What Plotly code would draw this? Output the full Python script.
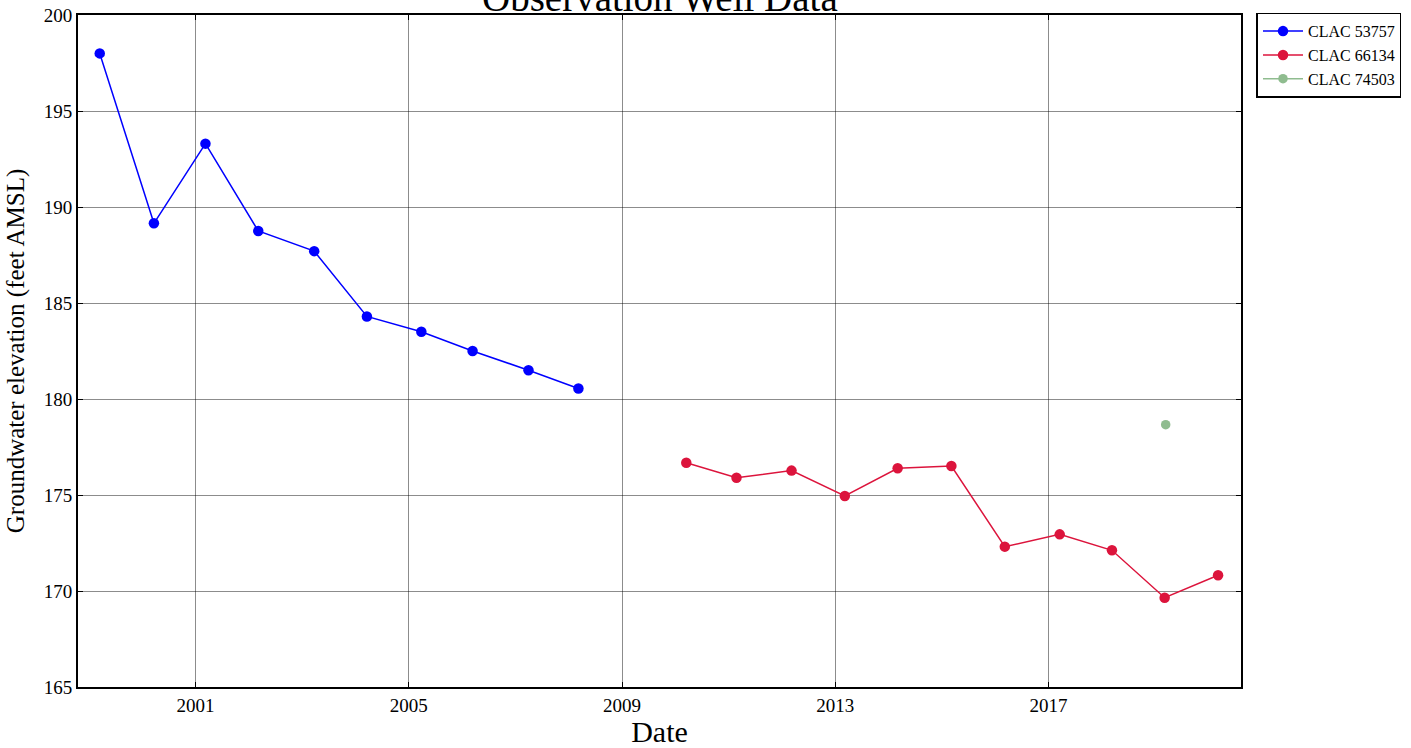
import plotly.graph_objects as go

# Observation well records (survey dates and groundwater elevations, feet AMSL)
well_53757_dates = ["1999-03-17", "2000-03-22", "2001-03-10", "2002-03-07", "2003-03-25",
                    "2004-03-20", "2005-03-28", "2006-03-14", "2007-04-01", "2008-03-08"]
well_53757_elev = [198.0, 189.15, 193.3, 188.75, 187.7, 184.3, 183.5, 182.5, 181.5, 180.55]

well_66134_dates = ["2010-03-17", "2011-02-24", "2012-03-07", "2013-03-07", "2014-03-04",
                    "2015-03-07", "2016-03-07", "2017-03-18", "2018-03-11", "2019-03-07",
                    "2020-03-07"]
well_66134_elev = [176.68, 175.9, 176.27, 174.95, 176.39, 176.51, 172.31, 172.95, 172.12,
                   169.65, 170.82]

well_74503_dates = ["2019-03-14"]
well_74503_elev = [178.66]

x_range = ["1998-10-19", "2020-08-11"]
y_range = [165, 200]
x_tick_vals = ["2001-01-01", "2005-01-01", "2009-01-01", "2013-01-01", "2017-01-01"]
x_tick_text = ["2001", "2005", "2009", "2013", "2017"]
y_tick_vals = [165, 170, 175, 180, 185, 190, 195, 200]

SERIF = "Liberation Serif, Times New Roman, serif"

fig = go.Figure()
fig.add_trace(go.Scatter(
    x=well_53757_dates, y=well_53757_elev, name="CLAC 53757", mode="lines+markers",
    line=dict(color="#0000ff", width=1.5),
    marker=dict(color="#0000ff", size=10.5),
))
fig.add_trace(go.Scatter(
    x=well_66134_dates, y=well_66134_elev, name="CLAC 66134", mode="lines+markers",
    line=dict(color="#dc143c", width=1.5),
    marker=dict(color="#dc143c", size=10.5),
))
fig.add_trace(go.Scatter(
    x=well_74503_dates, y=well_74503_elev, name="CLAC 74503", mode="lines+markers",
    line=dict(color="#8fbc8f", width=1.5),
    marker=dict(color="#8fbc8f", size=9.5),
))

axis_common = dict(
    showline=True, linecolor="black", linewidth=1.8, mirror="allticks",
    ticks="inside", ticklen=5, tickcolor="black",
    showgrid=True, gridcolor="rgba(0,0,0,0.45)", gridwidth=1,
    zeroline=False, automargin=False,
    tickfont=dict(family=SERIF, size=19, color="black"),
)

fig.update_xaxes(
    type="date", range=x_range, tickvals=x_tick_vals, ticktext=x_tick_text,
    title=dict(text="Date", font=dict(family=SERIF, size=30, color="black"), standoff=10),
    **axis_common,
)
fig.update_yaxes(
    range=y_range, tickvals=y_tick_vals,
    title=dict(text="Groundwater elevation (feet AMSL)",
               font=dict(family=SERIF, size=25, color="black"), standoff=12),
    **axis_common,
)

fig.add_annotation(
    text="Observation Well Data", xref="paper", yref="paper", x=0.5, y=1,
    yanchor="bottom", showarrow=False, yshift=-6,
    font=dict(family=SERIF, size=39, color="black"),
)

fig.update_layout(
    width=1411, height=748,
    margin=dict(l=78, r=170, t=15, b=61, autoexpand=False),
    paper_bgcolor="white", plot_bgcolor="white",
    showlegend=True,
    legend=dict(
        xref="container", yref="container",
        x=0.8905, y=0.983, xanchor="left", yanchor="top",
        bordercolor="black", borderwidth=1.5, bgcolor="white",
        font=dict(family=SERIF, size=16, color="black"),
        itemwidth=40, tracegroupgap=0,
    ),
)

fig.write_html("out.html")
